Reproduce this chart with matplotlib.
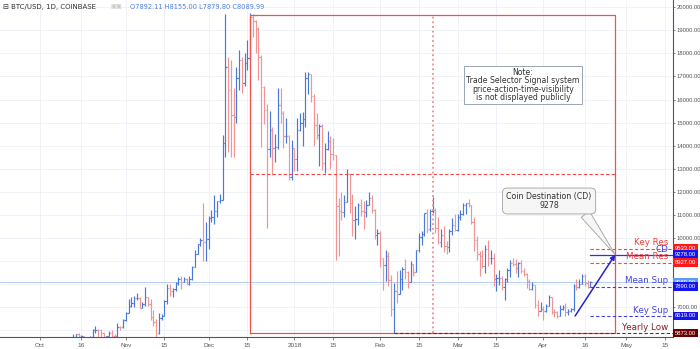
import numpy as np
import pandas as pd
import matplotlib
matplotlib.use("Agg")
import matplotlib.pyplot as plt
import matplotlib.dates as mdates
import matplotlib.transforms as mtransforms
from matplotlib.collections import LineCollection

# ---------------- data (BTC/USD daily, Coinbase) ----------------
start_date = "2017-10-12"

opens = [4820,5440,5640,5830,5690,5760,5600,5580,5710,6000,6010,5990,5900,5510,5740,5890,5770,5740,6150,6130,
         6450,6740,7030,7160,7380,7380,6960,7120,7450,7150,6580,6340,5860,6520,6600,7280,7840,7700,7780,8030,8240,8100,8230,8020,8200,8750,9290,9720,9900,9840,
         9940,10860,10890,11180,11620,11660,14100,17420,16410,15330,15250,16930,17700,16700,17600,17800,19600,19400,19050,17850,16550,15550,13850,14700,13900,13950,15760,15400,14400,14420,12640,
         13880,13410,14690,15000,15170,16950,17090,16150,14880,14470,14870,13270,13850,14220,13620,13580,11380,11180,11110,11550,12760,11530,10780,10840,11410,11150,11110,11450,11740,11200,10110,
         10230,9110,8830,9200,8190,6940,7700,7580,8230,8660,8530,8070,8880,8510,9470,10040,10160,11090,10380,11150,11230,10440,9830,10150,9670,9590,10310,10580,
         10330,10930,11030,11440,11500,11430,10710,9900,9290,9230,8780,9540,9140,9150,8200,8260,8270,7870,8200,8600,8900,8890,8710,8920,8550,8450,8140,7790,7940,7090,6840,
         6930,6820,7060,7420,6790,6780,6620,6900,7020,6770,6840,6940,7920,7890,8010,8355,8055,7892.11]
highs = [5440,5850,5840,5860,5790,5770,5610,5730,6070,6180,6070,6040,5900,5770,5970,5990,5850,6300,6200,6470,
         6780,7370,7460,7500,7600,7420,7220,7880,7450,7340,6860,6500,6750,6700,7320,7990,8000,7850,8100,8300,8370,8300,8270,8330,8780,9490,9740,10000,11500,10690,
         10940,11200,11850,11620,11900,14460,19700,17850,17720,16500,17400,18150,17850,18000,18600,19750,19700,19450,19140,17930,16600,15800,15500,14800,14500,16500,16500,15500,15200,14450,14250,
         13920,15200,15430,15450,17200,17200,17090,16250,15400,14950,14950,14100,14650,14400,14350,13600,11750,12000,11850,13000,12760,11900,11400,11500,11700,11600,11650,12000,11850,11250,10400,
         10300,9150,9500,9400,8400,8050,8580,8600,8740,9100,8550,8980,8880,9500,10200,10300,11100,11250,11250,11790,11300,10920,10400,10500,9850,10400,10880,11050,
         11050,11200,11530,11500,11690,11450,10890,10100,9420,9500,9700,9900,9480,9350,8420,8600,8350,8250,8700,9050,9150,9100,8950,9030,8700,8500,8200,8100,7950,7300,7230,
         7050,7150,7520,7420,6930,6850,7080,7110,7180,6900,6980,8000,8230,8200,8420,8420,8180,8155]
lows = [4810,5380,5560,5450,5570,5510,5110,5560,5630,5860,5720,5640,5460,5400,5730,5700,5700,5700,6030,6100,
        6380,6740,7020,6990,7300,6950,6960,7040,7050,6450,6200,5500,5850,6450,6600,7120,7500,7460,7700,7960,7800,8100,8000,7950,8180,8740,9290,9660,9000,9000,
        9540,10700,10600,10900,11500,11650,13500,13730,13500,13510,15000,16400,16300,16600,17300,17700,18700,18000,16850,13960,14960,10420,13500,12750,13300,13850,15000,13900,14100,12500,12500,
        12900,12900,14650,14000,14800,16250,15900,14000,14300,13100,12950,12800,13800,13000,13400,9050,9200,10800,10900,11550,11100,10100,9950,10550,10950,10400,10900,11450,11100,9950,9700,
        8750,7750,8150,7900,6600,5873,7200,7580,7750,8200,7850,8070,8350,8510,9380,9700,10100,10200,10300,11100,10220,9750,9600,9400,9300,9400,10150,10300,
        10300,10800,11000,11050,11350,10600,9450,9050,8350,8700,8500,8800,8850,7900,7700,7950,7750,7320,8100,8300,8800,8500,8300,8500,8350,7850,7750,7750,6950,6600,6840,
        6430,6800,7030,6720,6580,6520,6610,6890,6620,6650,6800,6850,7760,7840,8010,7900,7830,7879.8]
closes = [5440,5640,5830,5690,5760,5600,5580,5710,6000,6010,5990,5900,5510,5740,5890,5770,5740,6150,6130,6450,
          6740,7030,7160,7380,7390,6960,7120,7450,7150,6580,6340,5860,6520,6600,7280,7840,7700,7780,8030,8240,8100,8230,8020,8200,8750,9290,9720,9900,9840,9940,
          10860,10890,11180,11620,11660,14100,17420,16410,15330,15250,16930,17700,16700,17600,17800,19600,19400,19050,17850,16550,15550,13850,14700,13900,13950,15760,15400,14400,14420,12640,13880,
          13410,14690,15000,15170,16950,17090,16150,14880,14470,14870,13270,13850,14220,13620,13580,11380,11180,11110,11550,12760,11530,10780,10840,11410,11150,11110,11450,11740,11200,10110,10230,
          9110,8830,9200,8190,6940,7700,7580,8230,8660,8530,8070,8880,8510,9470,10040,10160,11090,10380,11150,11230,10440,9830,10150,9670,9590,10310,10580,10330,
          10930,11030,11440,11500,11430,10710,9900,9290,9230,8780,9540,9140,9150,8200,8260,8270,7870,8200,8600,8900,8890,8710,8920,8550,8450,8140,7790,7940,7090,6840,6930,
          6820,7060,7420,6790,6780,6620,6900,7020,6770,6840,6940,7920,7890,8010,8355,8055,7892.11,8089.99]

# price axis labels that are visible
axis_labels = [7000, 10000, 11000, 12000, 13000, 14000, 15000, 16000, 17000, 18000, 19000, 20000]

# x tick labels
xtick_dates = ["2017-10-01","2017-10-16","2017-11-01","2017-11-15","2017-12-01","2017-12-15","2018-01-01",
               "2018-01-15","2018-02-01","2018-02-15","2018-03-01","2018-03-15","2018-04-01","2018-04-16",
               "2018-05-01","2018-05-15"]
xtick_labels = ["Oct","16","Nov","15","Dec","15","2018","15","Feb","15","Mar","15","Apr","16","May","15"]

# drawn analysis levels
range_start, range_end = "2017-12-16", "2018-04-27"
range_high, yearly_low = 19666, 5873
key_res, cd_level, mean_res = 9533, 9278, 8927
mean_sup, key_sup = 7890, 6619
arrow_start_date = "2018-04-12 12:00"
levels_start_date = "2018-04-17 18:00"

# ---------------- figure ----------------
W, H = 700, 349
fig = plt.figure(figsize=(W / 100, H / 100), dpi=100)
fig.patch.set_facecolor("white")
ax = fig.add_axes([0, 12 / H, 673 / W, 337 / H])

def dn(s):
    return mdates.date2num(pd.Timestamp(s))

oct1 = dn("2017-10-01")
ax.set_xlim(oct1 - 14.47, oct1 + 228.9)
ax.set_ylim(5707, 20316)

x = mdates.date2num(pd.date_range(start_date, periods=len(closes), freq="D"))
o = np.array(opens, float); h = np.array(highs, float)
l = np.array(lows, float); c = np.array(closes, float)

up_col, dn_col = "#4a78d6", "#f09494"
tw = 0.45
segs, cols = [], []
for xi, oi, hi, li, ci in zip(x, o, h, l, c):
    col = up_col if ci >= oi else dn_col
    segs += [[(xi, li), (xi, hi)], [(xi - tw, oi), (xi, oi)], [(xi, ci), (xi + tw, ci)]]
    cols += [col] * 3
ax.add_collection(LineCollection(segs, colors=cols, linewidths=0.85, zorder=3))

# grid
ax.set_yticks(np.arange(6000, 21000, 1000))
ax.set_yticklabels([f"{v:.2f}" if v in axis_labels else "" for v in np.arange(6000, 21000, 1000)],
                   fontfamily="Liberation Sans")
ax.set_xticks([dn(d) for d in xtick_dates])
ax.set_xticklabels(xtick_labels, fontfamily="Liberation Sans")
ax.grid(True, color="#edf1f6", lw=0.6)
ax.set_axisbelow(True)
ax.yaxis.tick_right()
ax.tick_params(axis="y", labelsize=4.2, colors="#555555", length=1.5, width=0.5, pad=1.0)
ax.tick_params(axis="x", labelsize=4.6, colors="#555555", length=2, width=0.5, pad=2)
for s in ["top", "left"]:
    ax.spines[s].set_visible(False)
for s in ["right", "bottom"]:
    ax.spines[s].set_color("#555555")
    ax.spines[s].set_linewidth(0.8)

xr = ax.get_xlim()[1]

# current price line
ax.axhline(c[-1], color="#a9c4f0", lw=0.6, zorder=2)

# range rectangle and mid lines
rs, re_ = dn(range_start), dn(range_end)
ax.plot([rs, re_, re_, rs, rs], [yearly_low, yearly_low, range_high, range_high, yearly_low],
        color="#f05050", lw=0.9, zorder=4)
ax.plot([rs, re_], [(range_high + yearly_low) / 2] * 2, color="#f04848", lw=0.8,
        ls=(0, (3, 2)), zorder=4)
ax.plot([(rs + re_) / 2] * 2, [yearly_low, range_high], color="#f28b8b", lw=1.3,
        ls=(0, (1, 1.6)), zorder=4)

# yearly low line
ax.plot([dn("2018-02-06"), xr], [yearly_low] * 2, color="#8b1a1a", lw=0.8, ls=(0, (3, 2)), zorder=4)

# level lines
ls0 = dn(levels_start_date)
lvl = [(key_res, "#ff4040", (0, (3, 2))),
       (cd_level, "#2f2ff0", "-"),
       (mean_res, "#ff4040", (0, (3, 2))),
       (mean_sup, "#4040e0", (0, (3, 2))),
       (key_sup, "#4040e0", (0, (3, 2)))]
for val, col, lsty in lvl:
    ax.plot([ls0, xr], [val, val], color=col, lw=0.9 if lsty == "-" else 0.8, ls=lsty, zorder=4)

label_trans = mtransforms.blended_transform_factory(ax.transAxes, ax.transData)
label_items = [(key_res, "Key Res", "#f04040", 60),
               (cd_level, "CD", "#3a3ae0", 40),
               (mean_res, "Mean Res", "#f04040", 60),
               (mean_sup, "Mean Sup", "#4646e0", 60),
               (key_sup, "Key Sup", "#4646e0", 60),
               (yearly_low, "Yearly Low", "#8b2020", 60)]
for val, name, col, off in label_items:
    ax.text(0.9926, val + off, name, transform=label_trans, ha="right", va="bottom",
            fontsize=6.3, color=col, zorder=6)

# blue projection arrow
ax.annotate("", xy=(re_, cd_level), xytext=(dn(arrow_start_date), key_sup),
            arrowprops=dict(arrowstyle="-|>", color="#2424c8", lw=1.1, mutation_scale=7,
                            shrinkA=0, shrinkB=0), zorder=5)

# callout
ax.annotate("Coin Destination (CD)\n" + str(cd_level), xy=(re_, cd_level),
            xytext=(dn("2018-04-03 02:00"), 11603), ha="center", va="center",
            fontsize=5.7, color="#333333", linespacing=1.0,
            bbox=dict(boxstyle="round,pad=0.5,rounding_size=0.6", fc="#f6f6f6", ec="#a0a0a0", lw=0.6),
            arrowprops=dict(arrowstyle="wedge,tail_width=1.3,shrink_factor=0.5", fc="#f6f6f6",
                            ec="#a0a0a0", lw=0.6, relpos=(0.88, 0.05), shrinkA=0, shrinkB=0),
            zorder=7)

# note box
ax.text(dn("2018-03-24 16:00"), 16632,
        "Note:\nTrade Selector Signal system\nprice-action-time-visibility\nis not displayed publicly",
        ha="center", va="center", fontsize=5.6, color="#333333", linespacing=0.9,
        bbox=dict(boxstyle="square,pad=0.25", fc="white", ec="#9aa6b4", lw=0.7), zorder=7)

# price-axis colored labels
boxes = [(c[-1], "#5b9cf6"), (key_res, "#ff1a1a"), (cd_level, "#1414f0"), (mean_res, "#ff1a1a"),
         (mean_sup, "#1414f0"), (key_sup, "#1414f0"), (yearly_low, "#6b0000")]
for val, col in boxes:
    ax.text(1.003, val, f"{val:.2f}", transform=label_trans, ha="left", va="center",
            fontsize=4.2, fontfamily="Liberation Sans", color="white", clip_on=False, zorder=8,
            bbox=dict(boxstyle="square,pad=0.3", fc=col, ec="none"))

# header
fig.text(3 / W, 1 - 7 / H, "⊟ BTC/USD, 1D, COINBASE", fontsize=5, color="#333333", va="center")
fig.text(110 / W, 1 - 7 / H, "▣▣", fontsize=4.5, color="#c8c8c8", va="center")
fig.text(130 / W, 1 - 7 / H,
         f"O{o[-1]:.2f} H{h[-1]:.2f} L{l[-1]:.2f} C{c[-1]:.2f}",
         fontsize=4.8, color="#4f7fd8", va="center")

fig.savefig("out.png", dpi=100, facecolor="white")
